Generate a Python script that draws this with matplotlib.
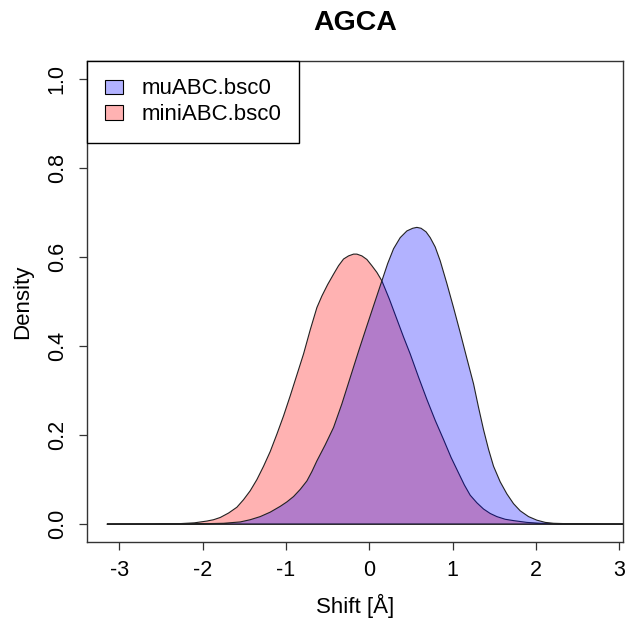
import matplotlib
matplotlib.use("Agg")
import matplotlib.pyplot as plt
from matplotlib.patches import Patch

plt.rcParams['font.family'] = ['Liberation Sans', 'DejaVu Sans']

title = "AGCA"
x_label = "Shift [Å]"
y_label = "Density"
series_names = ["muABC.bsc0", "miniABC.bsc0"]

# density estimate for muABC.bsc0
mu_x = [-3.15, -2.40, -2.00, -1.75, -1.55, -1.43, -1.31, -1.19, -1.07, -0.99,
        -0.91, -0.83, -0.75, -0.69, -0.63, -0.53, -0.43, -0.33, -0.23, -0.13,
        -0.03, 0.05, 0.15, 0.22, 0.29, 0.37, 0.45, 0.52, 0.57, 0.62,
        0.68, 0.73, 0.79, 0.85, 0.93, 1.01, 1.09, 1.17, 1.25, 1.31,
        1.37, 1.43, 1.49, 1.57, 1.65, 1.73, 1.81, 1.91, 2.01, 2.11,
        2.21, 2.50, 2.80, 3.20]
mu_y = [0.0, 0.0001, 0.001, 0.002, 0.005, 0.010, 0.017, 0.027, 0.040, 0.050,
        0.062, 0.078, 0.097, 0.118, 0.142, 0.178, 0.217, 0.270, 0.329, 0.388,
        0.445, 0.490, 0.546, 0.585, 0.618, 0.643, 0.658, 0.664, 0.666, 0.664,
        0.656, 0.643, 0.622, 0.591, 0.540, 0.486, 0.430, 0.372, 0.315, 0.262,
        0.212, 0.168, 0.130, 0.095, 0.068, 0.046, 0.030, 0.017, 0.009, 0.004,
        0.002, 0.0004, 0.0001, 0.0]

# density estimate for miniABC.bsc0
mini_x = [-3.15, -2.60, -2.30, -2.10, -1.95, -1.87, -1.79, -1.69, -1.59, -1.51,
          -1.43, -1.35, -1.27, -1.19, -1.11, -1.03, -0.95, -0.87, -0.79, -0.71,
          -0.63, -0.57, -0.50, -0.43, -0.37, -0.31, -0.25, -0.19, -0.15, -0.09,
          -0.03, 0.03, 0.09, 0.15, 0.24, 0.33, 0.41, 0.49, 0.59, 0.69,
          0.79, 0.89, 0.98, 1.07, 1.14, 1.21, 1.29, 1.37, 1.45, 1.53,
          1.63, 1.73, 1.89, 2.05, 2.40, 2.80, 3.20]
mini_y = [0.0, 0.0002, 0.001, 0.003, 0.007, 0.010, 0.015, 0.025, 0.038, 0.055,
          0.075, 0.100, 0.130, 0.163, 0.202, 0.243, 0.288, 0.335, 0.382, 0.436,
          0.486, 0.512, 0.538, 0.561, 0.580, 0.595, 0.602, 0.606, 0.606, 0.602,
          0.594, 0.580, 0.565, 0.546, 0.505, 0.460, 0.420, 0.382, 0.330, 0.280,
          0.233, 0.190, 0.150, 0.115, 0.088, 0.065, 0.048, 0.034, 0.024, 0.017,
          0.011, 0.008, 0.004, 0.002, 0.0004, 0.0001, 0.0]

x_ticks = [-3, -2, -1, 0, 1, 2, 3]
y_ticks = [0.0, 0.2, 0.4, 0.6, 0.8, 1.0]

blue = (0, 0, 1, 0.3)
red = (1, 0, 0, 0.3)

W, H = 627, 619
fig = plt.figure(figsize=(W / 100, H / 100), dpi=100)
ax = fig.add_axes([87.3 / W, 1 - 542 / H, (622.7 - 87.3) / W, (542 - 60.7) / H])

ax.fill(mini_x, mini_y, facecolor=red, edgecolor='#222222', linewidth=0.8, zorder=2)
ax.fill(mu_x, mu_y, facecolor=blue, edgecolor='#222222', linewidth=0.8, zorder=3)

ax.set_xlim(-3.385, 3.04)
ax.set_ylim(-0.04, 1.04)
ax.set_xticks(x_ticks)
ax.set_xticklabels([f"{v:d}" for v in x_ticks])
ax.set_yticks(y_ticks)
ax.set_yticklabels([f"{v:.1f}" for v in y_ticks], rotation=90, va='center')

for s in ax.spines.values():
    s.set_color('#333333')
    s.set_linewidth(1.0)
ax.tick_params(direction='out', length=6, width=0.9, color='#333333',
               labelsize=15.5, pad=7)
ax.tick_params(axis='y', pad=8)

ax.set_xlabel(x_label, fontsize=16, va='center')
ax.xaxis.set_label_coords(0.5, (542 - 606) / (542 - 60.7))
ax.set_ylabel(y_label, fontsize=16, va='center')
ax.yaxis.set_label_coords((23 - 87.3) / (622.7 - 87.3), 0.5)

fig.text(355 / W, 1 - 23 / H, title, ha='center', va='center',
         fontsize=20.5, fontweight='bold')

handles = [Patch(facecolor=blue, edgecolor='black', linewidth=0.8),
           Patch(facecolor=red, edgecolor='black', linewidth=0.8)]
leg = ax.legend(handles, series_names, loc='upper left', bbox_to_anchor=(0, 1),
                borderaxespad=0, fancybox=False, framealpha=1, edgecolor='black',
                fontsize=16, handlelength=0.8, handleheight=0.6,
                handletextpad=0.85, borderpad=0.8, labelspacing=0.22)
leg.get_frame().set_linewidth(1.0)

fig.savefig("out.png", dpi=100)
